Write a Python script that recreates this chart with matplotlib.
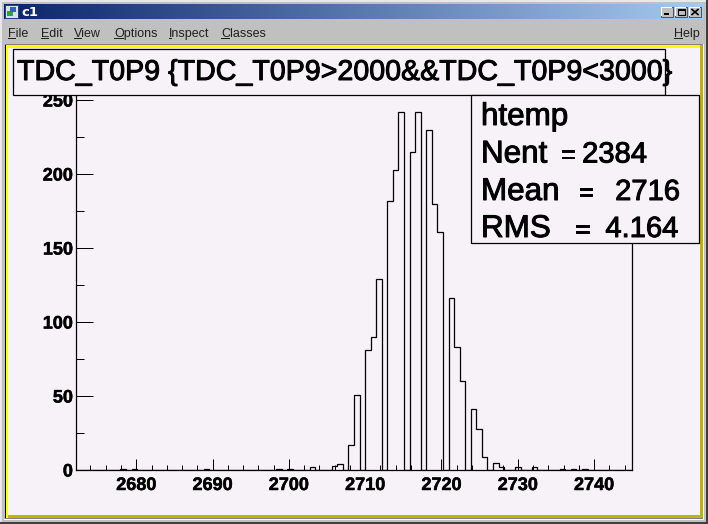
import numpy as np
import matplotlib
matplotlib.use("Agg")
import matplotlib.pyplot as plt
from matplotlib.patches import Rectangle
from matplotlib.ticker import MultipleLocator
import matplotlib.patheffects as pe

W, H = 708, 524
DPI = 100
PX = 72 / DPI

# ---------- data ----------
counts = [0, 0, 0, 0, 0, 0, 0, 0, 1, 0,
          1, 0, 0, 0, 0, 0, 0, 0, 0, 0,
          0, 0, 0, 1, 0, 0, 0, 0, 0, 0,
          0, 0, 0, 0, 0, 0, 1, 0, 1, 0,
          0, 0, 2, 0, 0, 0, 3, 4, 0, 17,
          51, 0, 81, 90, 129, 0, 182, 203, 242, 0,
          215, 242, 0, 230, 180, 161, 0, 116, 83, 60,
          0, 41, 28, 9, 0, 5, 2, 0, 0, 2,
          0, 0, 2, 0, 0, 0, 0, 1, 0, 1,
          0, 1, 0, 0, 0, 0, 0, 0, 0, 0]
x_range = (2672.1, 2744.97)
y_top = 253.4
x_major = [2680, 2690, 2700, 2710, 2720, 2730, 2740]
y_major = [0, 50, 100, 150, 200, 250]
title_text = "TDC_T0P9 {TDC_T0P9>2000&&TDC_T0P9<3000}"
stats_name = "htemp"
stats_labels = ["Nent", "Mean", "RMS"]
stats_values = ["2384", "2716", "4.164"]
menu_items = ["File", "Edit", "View", "Options", "Inspect", "Classes", "Help"]

BG = "#f6f2f7"
GREY = "#c0c0c0"
FONT = "Liberation Sans"

fig = plt.figure(figsize=(W / DPI, H / DPI), dpi=DPI, facecolor=GREY)


def px_axes(z):
    a = fig.add_axes([0, 0, 1, 1], zorder=z)
    a.set_xlim(0, W)
    a.set_ylim(H, 0)
    a.axis("off")
    a.patch.set_alpha(0)
    return a


def box(a, x0, y0, x1, y1, **kw):
    kw.setdefault("lw", 0)
    a.add_patch(Rectangle((x0, y0), x1 - x0, y1 - y0, **kw))


# ---------- window chrome ----------
bg = px_axes(0)
box(bg, 0, 0, W, 1.5, fc="#e8e8e8")
box(bg, 0, 0, 1.5, H, fc="#e8e8e8")
box(bg, W - 2, 0, W, H, fc="#404040")
box(bg, 0, H - 2, W, H, fc="#404040")
grad = np.linspace(0, 1, 256)[None, :, None]
c0 = np.array([10, 36, 106]) / 255
c1 = np.array([166, 202, 240]) / 255
bg.imshow(c0 + (c1 - c0) * grad, extent=(4, W - 4, 19, 4), aspect="auto", zorder=1)
bg.set_xlim(0, W)
bg.set_ylim(H, 0)

# canvas with sunken yellow border
box(bg, 5, 44, 703, 519, fc="#808080", zorder=2)
box(bg, 5, 44.5, 702, 518, fc="black", zorder=2)
box(bg, 6, 45, 702.5, 518, fc="#ffff00", zorder=2)
box(bg, 8, 515, 702.5, 518, fc="#c0b400", zorder=3)
box(bg, 700, 45, 702.5, 518, fc="#c0b400", zorder=3)
box(bg, 8, 48, 700, 515, fc=BG, zorder=3)
box(bg, 4, 519, 704, 520, fc="white", zorder=3)
box(bg, 703, 44, 704, 520, fc="white", zorder=3)

# title-bar icon, caption, buttons
box(bg, 5, 5, 18, 18, fc="#d8e0e8", ec="#20408a", lw=0.7, zorder=4)
box(bg, 7, 11, 13, 16, fc="#30a040", zorder=5)
box(bg, 10, 7, 16, 12, fc="#3060c0", zorder=5)
bg.text(21, 16, "c1", color="white", fontsize=9.5, fontweight="bold",
        family="DejaVu Sans", va="baseline", ha="left", zorder=6)
for bx, kind in zip((661, 675, 689), ("min", "max", "x")):
    box(bg, bx, 7, bx + 12, 16.5, fc=GREY, ec="#404040", lw=0.6, zorder=4)
    box(bg, bx, 7, bx + 11, 7.7, fc="white", zorder=5)
    box(bg, bx, 7, bx + 0.7, 16, fc="white", zorder=5)
    if kind == "min":
        box(bg, bx + 3, 13, bx + 8, 15, fc="black", zorder=6)
    elif kind == "max":
        box(bg, bx + 2.5, 9, bx + 9.5, 15, fc="none", ec="black", lw=0.8, zorder=6)
        box(bg, bx + 2.5, 9, bx + 9.5, 10.5, fc="black", zorder=6)
    else:
        bg.plot([bx + 3, bx + 9], [9.5, 14.5], color="black", lw=1.2, zorder=6)
        bg.plot([bx + 3, bx + 9], [14.5, 9.5], color="black", lw=1.2, zorder=6)

# menu
menu_x = [8, 41, 74, 114, 169, 221, 674]
renderer = fig.canvas.get_renderer()
for label, mx in zip(menu_items, menu_x):
    bg.text(mx, 37, label, fontsize=9, family=FONT, color="#202020",
            va="baseline", ha="left", zorder=6)
    probe = bg.text(mx, 37, label[0], fontsize=9, family=FONT, alpha=0)
    w = probe.get_window_extent(renderer).width
    probe.remove()
    box(bg, mx, 38, mx + w, 39, fc="#202020", zorder=6)

# ---------- histogram ----------
ax = fig.add_axes([76 / W, 1 - 470 / H, 556 / W, 375 / H], zorder=1)
ax.patch.set_alpha(0)
edges = np.linspace(x_range[0], x_range[1], len(counts) + 1)
ax.stairs(counts, edges, baseline=0, color="black", lw=1.0 * PX * 1.25, fill=False)
ax.set_xlim(*x_range)
ax.set_ylim(0, y_top)
ax.spines["top"].set_visible(False)
for s in ("left", "bottom", "right"):
    ax.spines[s].set_linewidth(1.0 * PX * 1.25)
ax.set_xticks(x_major)
ax.set_yticks(y_major)
ax.xaxis.set_minor_locator(MultipleLocator(2))
ax.yaxis.set_minor_locator(MultipleLocator(25))
lw_tick = 1.0 * PX
ax.tick_params(axis="x", which="major", direction="in", length=11 * PX, width=lw_tick, pad=7 * PX)
ax.tick_params(axis="x", which="minor", direction="in", length=5 * PX, width=lw_tick)
ax.tick_params(axis="y", which="major", direction="in", length=17 * PX, width=lw_tick, pad=3 * PX)
ax.tick_params(axis="y", which="minor", direction="in", length=8 * PX, width=lw_tick)
for t in ax.get_xticklabels() + ax.get_yticklabels():
    t.set_family(FONT)
    t.set_fontweight("bold")
    t.set_fontsize(13)
    t.set_color("black")
    t.set_path_effects([pe.withStroke(linewidth=0.35, foreground="black")])

# ---------- overlay boxes ----------
top = px_axes(2)
box(top, 13, 49, 665, 95, fc=BG, ec="black", lw=1.0 * PX * 1.25, zorder=1)
bold = [pe.withStroke(linewidth=0.7, foreground="black")]
top.text(17, 80, title_text, fontsize=20.6, family=FONT, color="black",
         va="baseline", ha="left", zorder=3, path_effects=bold)
box(top, 471, 95, 699, 243, fc=BG, ec="black", lw=1.0 * PX * 1.25, zorder=2)

SIZE = 21
LABEL_SIZE = 22.6
top.text(481, 125, stats_name, fontsize=LABEL_SIZE, family=FONT, color="black",
         va="baseline", ha="left", zorder=3, path_effects=bold)
for label, value, y, eq_x, val_right in zip(stats_labels, stats_values,
                                            (162.5, 200, 237),
                                            (568, 586, 582.5),
                                            (647, 680, 678)):
    top.text(481, y, label, fontsize=LABEL_SIZE, family=FONT, color="black",
             va="baseline", ha="left", zorder=3, path_effects=bold)
    top.text(eq_x, y, "=", fontsize=SIZE * 0.85, family=FONT, color="black",
             va="baseline", ha="center", zorder=3, path_effects=bold)
    top.text(val_right, y, value, fontsize=SIZE, family=FONT, color="black",
             va="baseline", ha="right", zorder=3, path_effects=bold)

fig.savefig("out.png", dpi=DPI, facecolor=fig.get_facecolor())
